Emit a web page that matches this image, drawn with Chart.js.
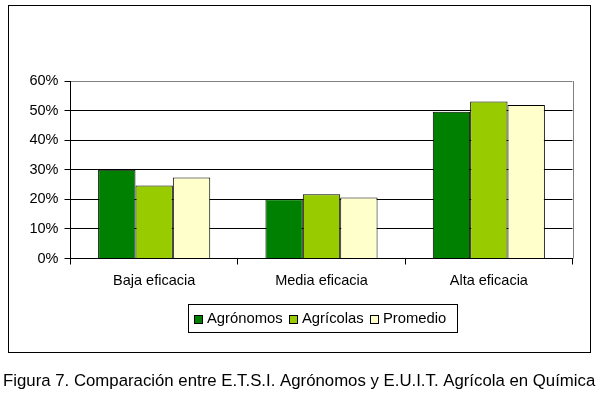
<!DOCTYPE html>
<html>
<head>
<meta charset="utf-8">
<script src="https://cdn.jsdelivr.net/npm/chart.js@4.4.1/dist/chart.umd.min.js"></script>
<style>
  html, body { margin: 0; padding: 0; background: #fff; }
  #wrap { position: relative; width: 602px; height: 393px; }
</style>
</head>
<body>
<div id="wrap"><canvas id="chart" width="602" height="393"></canvas></div>
<script>
// datos (porcentaje)
const categorias = ['Baja eficacia', 'Media eficacia', 'Alta eficacia'];
const agronomos = [30, 20, 49.6];
const agricolas = [24.7, 21.7, 53.1];
const promedio = [27.4, 20.6, 51.9];
const nombresSeries = ['Agrónomos', 'Agrícolas', 'Promedio'];
const ticksY = [0, 10, 20, 30, 40, 50, 60];
const pie = 'Figura 7. Comparación entre E.T.S.I. Agrónomos y E.U.I.T. Agrícola en Química';

const colores = ['#008000', '#99CC00', '#FFFFCC'];
const fuente = '"Liberation Sans", Arial, sans-serif';

// marco exterior, borde del area, leyenda y pie de figura
const extras = {
    id: 'extras',
    afterDraw(chart) {
        const c = chart.ctx;
        const a = chart.chartArea;
        c.save();
        c.lineWidth = 1;
        // marco exterior
        c.strokeStyle = '#000';
        c.strokeRect(8.5, 5.5, 582, 347);
        // borde derecho gris del area de trazado
        c.strokeStyle = '#808080';
        c.beginPath();
        c.moveTo(Math.round(a.right) + 0.5, a.top);
        c.lineTo(Math.round(a.right) + 0.5, a.bottom);
        c.stroke();
        // leyenda
        c.strokeStyle = '#000';
        c.strokeRect(188.5, 304.5, 269, 28);
        const xs = [194, 289, 370];
        c.font = '14.8px ' + fuente;
        c.textBaseline = 'alphabetic';
        c.textAlign = 'left';
        chart.data.datasets.forEach((ds, i) => {
            c.fillStyle = ds.backgroundColor;
            c.fillRect(xs[i] + 0.5, 315.5, 8, 8);
            c.strokeStyle = '#000';
            c.strokeRect(xs[i] + 0.5, 315.5, 8, 8);
            c.fillStyle = '#000';
            c.fillText(ds.label, xs[i] + 13, 322.5);
        });
        // pie de figura
        c.font = '16.8px ' + fuente;
        c.fillStyle = '#000';
        c.fillText(pie, 3, 385.5);
        c.restore();
    }
};

const ctx = document.getElementById('chart').getContext('2d');
const chart = new Chart(ctx, {
    type: 'bar',
    data: {
        labels: categorias,
        datasets: [
            { label: nombresSeries[0], data: agronomos, backgroundColor: colores[0] },
            { label: nombresSeries[1], data: agricolas, backgroundColor: colores[1] },
            { label: nombresSeries[2], data: promedio, backgroundColor: colores[2] }
        ].map(d => Object.assign(d, {
            borderColor: '#000',
            borderWidth: 1,
            categoryPercentage: 0.67,
            barPercentage: 1.0
        }))
    },
    options: {
        responsive: false,
        animation: false,
        devicePixelRatio: 1,
        layout: { padding: { left: 0, top: 81, right: 29.5, bottom: 104.5 } },
        plugins: {
            legend: { display: false },
            tooltip: { enabled: false }
        },
        scales: {
            x: {
                afterFit: (s) => { s.height = 30; },
                grid: {
                    display: true,
                    drawOnChartArea: false,
                    drawTicks: true,
                    tickLength: 6,
                    color: '#000',
                    offset: true
                },
                border: { display: true, color: '#000', width: 1 },
                ticks: {
                    color: '#000',
                    padding: 8,
                    font: { family: fuente, size: 14.5 }
                }
            },
            y: {
                min: 0,
                max: 60,
                afterFit: (s) => { s.width = 70.5; },
                afterBuildTicks: (s) => { s.ticks = ticksY.map(v => ({ value: v })); },
                grid: {
                    color: (c) => c.tick && c.tick.value === 60 ? '#808080' : '#000',
                    tickColor: '#000',
                    tickLength: 6,
                    lineWidth: 1
                },
                border: { display: true, color: '#000', width: 1 },
                ticks: {
                    color: '#000',
                    padding: 6,
                    font: { family: fuente, size: 14.5 },
                    callback: (v) => v + '%'
                }
            }
        }
    },
    plugins: [extras]
});
</script>
</body>
</html>
